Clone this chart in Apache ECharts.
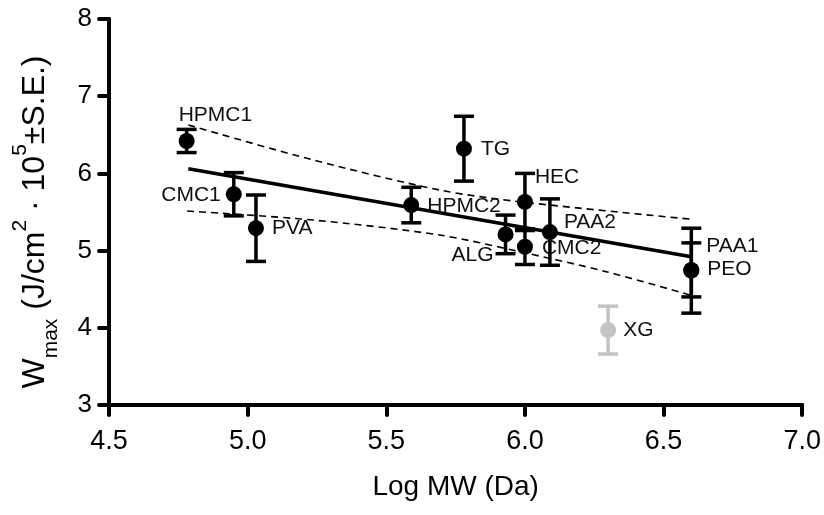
<!DOCTYPE html>
<html>
<head>
<meta charset="UTF-8">
<title>Wmax vs Log MW</title>
<script src="https://cdn.jsdelivr.net/npm/echarts@6/dist/echarts.min.js"></script>
<style>
  html, body { margin: 0; padding: 0; background: #fff; }
  #main { width: 824px; height: 515px; }
</style>
</head>
<body>
<div id="main"></div>
<script>
// polymer data
var names = ['HPMC1', 'CMC1', 'PVA', 'HPMC2', 'TG', 'ALG', 'HEC', 'CMC2', 'PAA2', 'PAA1', 'PEO', 'XG'];
var logMW = [4.78, 4.95, 5.03, 5.59, 5.78, 5.93, 6.00, 6.00, 6.09, 6.60, 6.60, 6.30];
var wmax  = [6.42, 5.73, 5.29, 5.59, 6.32, 5.21, 5.63, 5.05, 5.24, 4.74, 4.75, 3.97];
var se    = [0.15, 0.28, 0.43, 0.23, 0.42, 0.25, 0.37, 0.23, 0.43, 0.55, 0.35, 0.31];
var excluded = ['XG'];

// regression line and 95% band
var fitX = [4.786, 6.600];
var fitY = [6.06, 4.92];
var upperX = [4.786, 5.236, 5.692, 5.981, 6.604];
var upperY = [6.627, 6.174, 5.785, 5.633, 5.405];
var lowerX = [4.782, 5.235, 5.692, 5.981, 6.293, 6.595];
var lowerY = [5.513, 5.396, 5.202, 4.986, 4.727, 4.425];

// label placement relative to dot (px)
var labelPos = {
  HPMC1: [-8, -26, 'left'],
  CMC1:  [-13, 1, 'right'],
  PVA:   [16, 0, 'left'],
  HPMC2: [16, 1, 'left'],
  TG:    [17, 1, 'left'],
  ALG:   [-12, 21, 'right'],
  HEC:   [10, -25, 'left'],
  CMC2:  [17, 1, 'left'],
  PAA2:  [14, -10, 'left'],
  PAA1:  [15, -24, 'left'],
  PEO:   [16, -1, 'left'],
  XG:    [15, 0, 'left']
};

function zip(a, b) { return a.map(function (v, i) { return [v, b[i]]; }); }
function colorOf(n) { return excluded.indexOf(n) >= 0 ? '#c3c3c3' : '#000'; }

var pts = names.map(function (n, i) { return [logMW[i], wmax[i], se[i], i]; });
var font = 'Liberation Sans, Arial, sans-serif';

var myChart = echarts.init(document.getElementById('main'));

var option = {
  animation: false,
  grid: { left: 109, right: 21, top: 19, bottom: 110 },
  xAxis: {
    type: 'value', min: 4.5, max: 7.0, interval: 0.5,
    name: 'Log MW (Da)', nameLocation: 'middle', nameGap: 68,
    nameTextStyle: { fontSize: 28, color: '#000', fontFamily: font },
    axisLine: { lineStyle: { color: '#000', width: 4, cap: 'round' } },
    axisTick: { length: 10, lineStyle: { width: 4, color: '#000', cap: 'round' } },
    axisLabel: { fontSize: 27, color: '#000', fontFamily: font, margin: 23,
      formatter: function (v) { return v.toFixed(1); } },
    splitLine: { show: false }
  },
  yAxis: {
    type: 'value', min: 3, max: 8, interval: 1,
    name: '{a|W}{s|max}{a| (J/cm}{p|2}{a| · 10}{p|5}{a|±S.E.)}',
    nameLocation: 'middle', nameGap: 55, nameRotate: 90,
    nameTextStyle: {
      color: '#000', fontFamily: font, padding: [0, 0, 0, -20],
      rich: {
        a: { fontSize: 32, color: '#000', fontFamily: font, lineHeight: 38 },
        s: { fontSize: 21, color: '#000', fontFamily: font, verticalAlign: 'bottom', lineHeight: 38, padding: [0, 0, -8, 0] },
        p: { fontSize: 21, color: '#000', fontFamily: font, verticalAlign: 'top', lineHeight: 38, padding: [-6, 0, 0, 0] }
      }
    },
    axisLine: { lineStyle: { color: '#000', width: 4, cap: 'round' } },
    axisTick: { length: 10, lineStyle: { width: 4, color: '#000', cap: 'round' } },
    axisLabel: { fontSize: 26, color: '#000', fontFamily: font, margin: 17 },
    splitLine: { show: false }
  },
  series: [
    {
      type: 'line', data: zip(fitX, fitY), symbol: 'none',
      lineStyle: { color: '#000', width: 3.5 }, z: 2
    },
    {
      type: 'line', data: zip(upperX, upperY), symbol: 'none', smooth: 0.3,
      lineStyle: { color: '#000', width: 1.6, type: [7, 5] }, z: 2
    },
    {
      type: 'line', data: zip(lowerX, lowerY), symbol: 'none', smooth: 0.3,
      lineStyle: { color: '#000', width: 1.6, type: [7, 5] }, z: 2
    },
    {
      // point labels (drawn beneath the bars)
      type: 'custom', data: pts, z: 3,
      renderItem: function (params, api) {
        var n = names[api.value(3)];
        var c = api.coord([api.value(0), api.value(1)]);
        var lp = labelPos[n];
        return {
          type: 'text',
          style: {
            x: c[0] + lp[0], y: c[1] + lp[1], text: n,
            align: lp[2], verticalAlign: 'middle',
            fontSize: 21, fontFamily: font, fill: '#111'
          }
        };
      }
    },
    {
      // standard error bars
      type: 'custom', data: pts, z: 4,
      renderItem: function (params, api) {
        var x = api.value(0), y = api.value(1), e = api.value(2);
        var col = colorOf(names[api.value(3)]);
        var hi = api.coord([x, y + e]), lo = api.coord([x, y - e]);
        var w = 10;
        var st = { stroke: col, lineWidth: 3.5 };
        return {
          type: 'group',
          children: [
            { type: 'line', shape: { x1: hi[0], y1: hi[1], x2: lo[0], y2: lo[1] }, style: st },
            { type: 'line', shape: { x1: hi[0] - w, y1: hi[1], x2: hi[0] + w, y2: hi[1] }, style: st },
            { type: 'line', shape: { x1: lo[0] - w, y1: lo[1], x2: lo[0] + w, y2: lo[1] }, style: st }
          ]
        };
      }
    },
    {
      type: 'scatter', z: 5, symbolSize: 16,
      data: pts.map(function (p) {
        return { value: [p[0], p[1]], itemStyle: { color: colorOf(names[p[3]]), opacity: 1 } };
      })
    }
  ]
};

myChart.setOption(option);
</script>
</body>
</html>
